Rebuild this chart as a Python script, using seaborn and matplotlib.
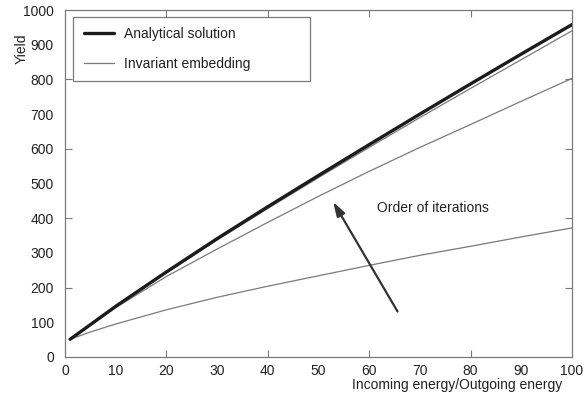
import numpy as np
import pandas as pd
import seaborn as sns
import matplotlib
matplotlib.use("Agg")
import matplotlib.pyplot as plt

# energy ratio (x) and yield values
energy = [1, 5, 10, 20, 30, 40, 50, 60, 70, 80, 90, 100]
analytical = [51, 93, 146, 245, 341, 433, 523, 612, 700, 787, 873, 958]
iter_high = [51, 92, 145, 242, 337, 428, 517, 604, 690, 774, 857, 940]
iter_mid = [51, 91, 142, 232, 311, 388, 463, 535, 604, 670, 737, 803]
iter_low = [51, 72, 95, 136, 172, 204, 234, 264, 293, 319, 346, 372]

x_ticks = list(range(0, 101, 10))
y_ticks = list(range(0, 1001, 100))

sns.set_style("ticks")
plt.rcParams['font.family'] = ['Liberation Sans', 'DejaVu Sans']
plt.rcParams['font.size'] = 10

fig = plt.figure(figsize=(5.87, 3.97), dpi=100)
ax = fig.add_axes([0.1107, 0.1008, 0.8637, 0.874])

gray = "#7a7a7a"
# iterations of invariant embedding (thin gray)
for i, vals in enumerate([iter_low, iter_mid, iter_high]):
    sns.lineplot(x=energy, y=vals, ax=ax, color=gray, linewidth=0.9,
                 label="Invariant embedding" if i == 0 else None)
sns.lineplot(x=energy, y=analytical, ax=ax, color="#1c1c1c", linewidth=2.4,
             label="Analytical solution")

ax.set_xlim(0, 100)
ax.set_ylim(0, 1000)
ax.set_xticks(x_ticks)
ax.set_yticks(y_ticks)
ax.tick_params(direction="in", length=5, width=0.8, color=gray,
               top=True, right=True, labelsize=10, labelcolor="#222222")
ax.tick_params(axis="y", pad=8)
ax.tick_params(axis="x", pad=5)
# only every second tick has a visible mark
for t, v in zip(ax.xaxis.get_major_ticks(), x_ticks):
    if v % 20 != 0 or v in (0, 100):
        t.tick1line.set_visible(False)
        t.tick2line.set_visible(False)
for t, v in zip(ax.yaxis.get_major_ticks(), y_ticks):
    if v % 200 != 0 or v in (0, 1000):
        t.tick1line.set_visible(False)
        t.tick2line.set_visible(False)

for s in ax.spines.values():
    s.set_color(gray)
    s.set_linewidth(0.9)
    s.set_visible(True)

ax.set_xlabel("Incoming energy/Outgoing energy", color="#222222")
ax.xaxis.set_label_coords(0.98, -0.06)
ax.xaxis.label.set_horizontalalignment("right")
ax.set_ylabel("Yield", color="#222222")
ax.yaxis.set_label_coords(-0.072, 0.888)

ax.annotate("", xy=(52.9, 447), xytext=(65.6, 131),
            arrowprops=dict(arrowstyle="-|>,head_length=0.7,head_width=0.22",
                            color="#333333", lw=1.6, mutation_scale=12,
                            shrinkA=0, shrinkB=0))
ax.text(61.5, 429, "Order of iterations", ha="left", va="center",
        color="#222222", fontsize=10)

handles, labels = ax.get_legend_handles_labels()
order = [labels.index("Analytical solution"), labels.index("Invariant embedding")]
leg = ax.legend([handles[i] for i in order], [labels[i] for i in order],
                loc="upper left", bbox_to_anchor=(0.016, 0.5, 0.467, 0.48),
                mode="expand", borderaxespad=0, frameon=True, fancybox=False,
                edgecolor=gray, framealpha=1, handlelength=2.2,
                handletextpad=0.7, labelspacing=1.1, borderpad=0.75)
leg.get_frame().set_linewidth(0.9)
for txt in leg.get_texts():
    txt.set_color("#222222")

fig.savefig("out.png", dpi=100)
